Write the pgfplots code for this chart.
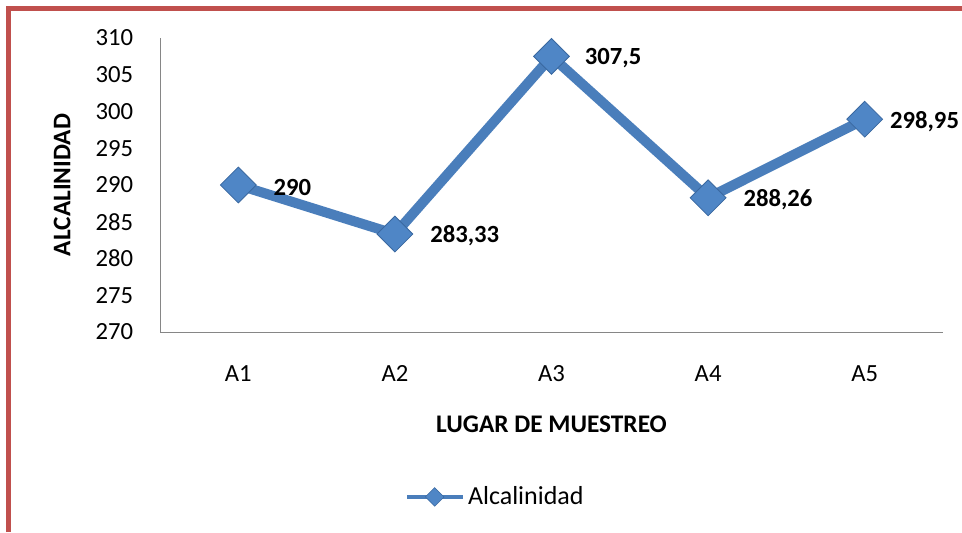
\documentclass[border=0pt]{standalone}
\usepackage{fontspec}
\setmainfont{Carlito}
\usepackage{pgfplots}
\pgfplotsset{compat=1.18}
\usepackage{pgfplotstable}
\definecolor{framered}{HTML}{C0504D}
\definecolor{lineblue}{HTML}{4A7EBB}
\definecolor{markblue}{HTML}{4F86C6}
\definecolor{markedge}{HTML}{3A68A0}
\definecolor{axgray}{HTML}{868686}
\pgfplotstableread{
x y lab dx
1 290 290 35
2 283.33 283,33 35
3 307.5 307,5 33
4 288.26 288,26 35
5 298.95 298,95 25
}\datatable
\begin{document}
\begin{tikzpicture}
\useasboundingbox (0,0) rectangle (721.5pt,399pt);
\draw[framered, line width=3.75pt] (6.375pt,0pt) -- (6.375pt,392.625pt) -- (721.5pt,392.625pt);
\begin{axis}[
  at={(120pt,150pt)}, anchor=south west,
  width=587.25pt, height=220.5pt, scale only axis,
  xmin=0.5, xmax=5.5, ymin=270, ymax=310,
  xtick={1,2,3,4,5}, xticklabels={A1,A2,A3,A4,A5},
  ytick={270,275,...,310},
  axis lines*=left, axis line style={axgray, line width=0.75pt, -},
  major tick length=0pt,
  tick label style={font=\fontsize{18.5}{22}\selectfont, inner sep=0pt},
  yticklabel style={anchor=east, xshift=-20pt},
  xticklabel style={anchor=north, yshift=-24.75pt},
  /pgf/number format/assume math mode=true,
  xlabel={LUGAR DE MUESTREO}, ylabel={ALCALINIDAD},
  label style={font=\fontsize{19}{23}\selectfont\bfseries},
  xlabel style={at={(axis description cs:0.5,-0.313)}, anchor=center},
  ylabel style={at={(axis description cs:-0.125,0.5)}, anchor=center},
  legend style={at={(axis description cs:0.313,-0.561)}, anchor=west, draw=none, fill=none, inner sep=0pt,
    font=\fontsize{19.5}{23}\selectfont, cells={anchor=west}},
  clip=false,
]
\addplot[lineblue, line width=7.5pt, mark=square*, mark size=9.5pt,
  mark options={rotate=45, fill=markblue, draw=markedge, line width=0.6pt},
  point meta=explicit symbolic,
  visualization depends on={\thisrow{dx} \as \dx},
  nodes near coords,
  nodes near coords style={anchor=west, inner sep=0pt, xshift=\dx*0.75pt, yshift=-1.5pt,
    font=\fontsize{18.5}{22}\selectfont\bfseries, text=black},
  legend image code/.code={
    \draw[lineblue, line width=3pt] (0pt,0pt) -- (42pt,0pt);
    \filldraw[fill=markblue, draw=markedge, line width=0.4pt] (13.5pt,0pt) -- (20.5pt,7pt) -- (27.5pt,0pt) -- (20.5pt,-7pt) -- cycle;
  },
] table[x=x, y=y, meta=lab] {\datatable};
\addlegendentry{Alcalinidad}
\end{axis}
\end{tikzpicture}
\end{document}
